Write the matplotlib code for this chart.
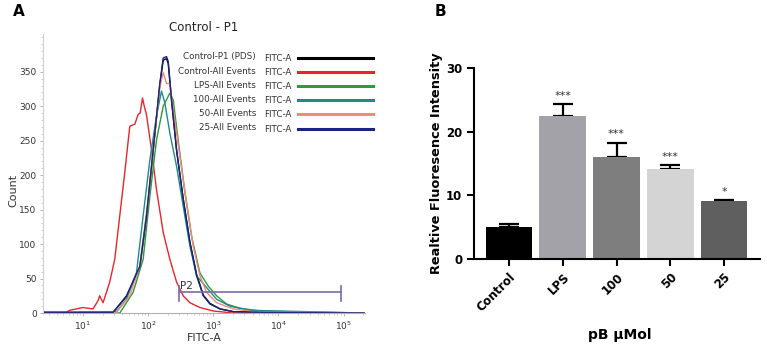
import numpy as np
import matplotlib
matplotlib.use("Agg")
import matplotlib.pyplot as plt
from matplotlib.lines import Line2D
from matplotlib.ticker import LogLocator, LogFormatterMathtext, MultipleLocator

# ---- panel A: FITC-A histograms (log10 of FITC-A, count) ----
red_logx = [0.385, 0.744, 0.795, 1.0, 1.154, 1.231, 1.256, 1.308, 1.41, 1.487, 1.564, 1.641,
            1.718, 1.795, 1.846, 1.877, 1.913, 1.94, 1.974, 2.051, 2.128, 2.231, 2.333, 2.436,
            2.538, 2.641, 2.795, 3.0, 3.308, 5.33]
red_cnt = [1, 1, 4, 8, 6, 18, 25, 15, 45, 78, 141, 204, 271, 274, 288, 290, 312, 300, 288, 237,
           179, 117, 78, 45, 25, 15, 8, 3, 0, 0]

black_logx = [0.385, 1.462, 1.667, 1.872, 1.974, 2.077, 2.179, 2.231, 2.282, 2.308, 2.359,
              2.436, 2.538, 2.641, 2.744, 2.846, 2.949, 3.103, 3.308, 3.821, 5.33]
black_cnt = [1, 1, 24, 66, 139, 235, 331, 367, 369, 362, 308, 236, 166, 103, 56, 26, 14, 6, 2, 1, 0]

green_logx = [0.385, 1.564, 1.769, 1.923, 2.026, 2.128, 2.231, 2.333, 2.385, 2.462, 2.564,
              2.667, 2.795, 2.923, 3.051, 3.205, 3.41, 3.718, 4.077, 5.33]
green_cnt = [0, 0, 30, 78, 169, 251, 300, 319, 309, 250, 175, 111, 58, 39, 25, 13, 7, 3, 2, 0]

teal_logx = [0.385, 1.513, 1.667, 1.821, 1.923, 2.026, 2.128, 2.205, 2.256, 2.333, 2.436,
             2.538, 2.641, 2.744, 2.897, 3.051, 3.256, 3.564, 5.33]
teal_cnt = [0, 2, 20, 59, 141, 222, 286, 322, 305, 261, 213, 155, 97, 54, 37, 20, 10, 4, 0]

salmon_logx = [0.385, 1.513, 1.718, 1.872, 2.0, 2.103, 2.179, 2.231, 2.282, 2.333, 2.385,
               2.487, 2.59, 2.692, 2.795, 2.897, 3.051, 3.308, 3.615, 5.33]
salmon_cnt = [0, 1, 25, 68, 165, 261, 328, 349, 333, 333, 295, 227, 160, 97, 54, 30, 15, 6, 2, 0]

navy_logx = [0.385, 1.462, 1.667, 1.872, 1.974, 2.077, 2.179, 2.231, 2.282, 2.308, 2.359,
             2.436, 2.538, 2.641, 2.744, 2.846, 2.949, 3.103, 3.308, 3.821, 5.33]
navy_cnt = [1, 1, 25, 68, 141, 237, 333, 370, 372, 365, 310, 237, 165, 102, 54, 25, 13, 6, 2, 1, 0]

legend_names = ["Control-P1 (PDS)", "Control-All Events", "LPS-All Events",
                "100-All Events", "50-All Events", "25-All Events"]
legend_colors = ["#000000", "#e8262a", "#2e9a3a", "#1f8a8a", "#f08a7a", "#1c2380"]

gate_x = [300, 91000]
gate_y = 30

# ---- panel B: bars ----
groups = ["Control", "LPS", "100", "50", "25"]
means = [5.1, 22.4, 16.0, 14.2, 9.1]
errs = [0.4, 1.9, 2.3, 0.5, 0.1]
stars = ["", "***", "***", "***", "*"]
bar_colors = ["#000000", "#a2a2a8", "#7e7e7e", "#d4d4d4", "#5f5f5f"]

fig = plt.figure(figsize=(7.67, 3.49), dpi=100)

# ===== A =====
ax = fig.add_axes([0.056, 0.103, 0.42, 0.80])
curves = [(black_logx, black_cnt), (red_logx, red_cnt), (green_logx, green_cnt),
          (teal_logx, teal_cnt), (salmon_logx, salmon_cnt), (navy_logx, navy_cnt)]
for (lx, cnt), col in zip(curves, legend_colors):
    ax.plot(10 ** np.array(lx), cnt, color=col, lw=1.0)

ax.set_xscale("log")
ax.set_xlim(10 ** 0.385, 10 ** 5.33)
ax.set_ylim(0, 405)
ax.set_yticks(range(0, 351, 50))
ax.yaxis.set_minor_locator(MultipleLocator(10))
ax.xaxis.set_major_locator(LogLocator(base=10, numticks=10))
ax.xaxis.set_major_formatter(LogFormatterMathtext())
ax.xaxis.set_minor_locator(LogLocator(base=10, subs=np.arange(2, 10), numticks=20))
for s in ["top", "right"]:
    ax.spines[s].set_visible(False)
ax.spines["left"].set_color("#d0d0d0")
ax.spines["bottom"].set_color("#b0b0b0")
ax.tick_params(axis="both", which="major", labelsize=6.5, colors="#aaaaaa",
               labelcolor="#333333", length=2.5, width=0.6, pad=2)
ax.tick_params(axis="both", which="minor", colors="#bbbbbb", length=1.5, width=0.5)
ax.set_xlabel("FITC-A", fontsize=8, color="#333333", labelpad=1)
ax.set_ylabel("Count", fontsize=8, color="#333333")
ax.yaxis.set_label_coords(-0.075, 0.44)
ax.set_title("Control - P1", fontsize=8.5, color="#222222", pad=1)

# P2 gate
gc = "#7d6aa8"
ax.plot(gate_x, [gate_y, gate_y], color=gc, lw=1.2)
for gx in gate_x:
    ax.plot([gx, gx], [gate_y - 12, gate_y + 9], color=gc, lw=1.2)
ax.text(gate_x[0] * 1.02, gate_y + 2, "P2", fontsize=7.5, color="#333333", va="bottom")

# legend drawn in figure coordinates
row_y = [57, 71, 85, 99, 113, 128]
for name, col, ry in zip(legend_names, legend_colors, row_y):
    yf = 1 - ry / 349
    fig.text(256 / 767, yf, name, ha="right", va="center", fontsize=6.3, color="#333333")
    fig.text(264 / 767, yf - 0.004, "FITC-A", ha="left", va="center", fontsize=6.3, color="#333333")
    fig.add_artist(Line2D([298 / 767, 373 / 767], [yf - 0.004, yf - 0.004],
                          color=col, lw=2.2, transform=fig.transFigure))

fig.text(13 / 767, 1 - 11 / 349, "A", fontsize=11, fontweight="bold", va="center")
fig.text(435 / 767, 1 - 11 / 349, "B", fontsize=11, fontweight="bold", va="center")

# ===== B =====
bx = fig.add_axes([0.618, 0.258, 0.373, 0.547])
xs = np.arange(len(groups))
bx.bar(xs, means, width=0.87, color=bar_colors, zorder=2)
bx.errorbar(xs, means, yerr=[np.zeros(len(errs)), errs], fmt="none", ecolor="black",
            elinewidth=1.6, capsize=7, capthick=1.6, zorder=1)
for x, m, e, s in zip(xs, means, errs, stars):
    if s:
        bx.text(x, m + e + 0.5, s, ha="center", va="bottom", fontsize=8, color="#333333")
bx.set_xlim(-0.65, 4.67)
bx.set_ylim(0, 30)
bx.set_yticks([0, 10, 20, 30])
bx.set_xticks(xs)
bx.set_xticklabels(groups, rotation=45, ha="right", rotation_mode="anchor")
for s in ["top", "right"]:
    bx.spines[s].set_visible(False)
for s in ["left", "bottom"]:
    bx.spines[s].set_linewidth(1.5)
bx.tick_params(axis="both", width=1.5, length=5, labelsize=8.5)
for lab in bx.get_xticklabels() + bx.get_yticklabels():
    lab.set_fontweight("bold")
bx.set_ylabel("Realtive Fluoresence Intensity", fontsize=9.3, fontweight="bold")
bx.yaxis.set_label_coords(-0.108, 0.5)
bx.set_xlabel("pB \u03bcMol", fontsize=10, fontweight="bold")
bx.xaxis.set_label_coords(0.51, -0.36)

fig.savefig("out.png", dpi=100)
